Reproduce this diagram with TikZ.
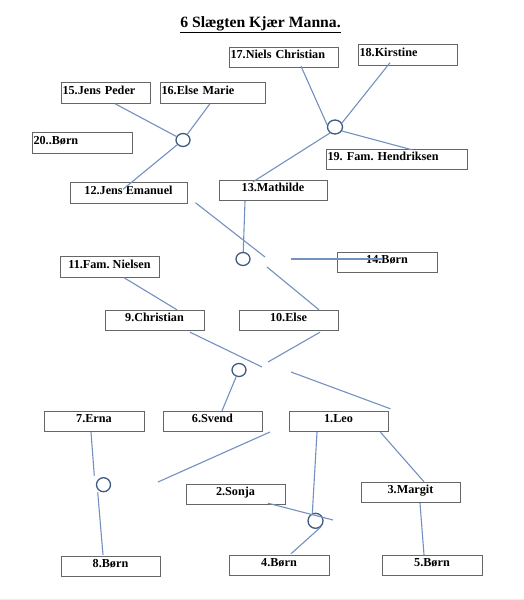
\documentclass[tikz,border=0pt]{standalone}
\usepackage{fontspec}
\setmainfont{Liberation Serif}
\usetikzlibrary{shapes.geometric}
\definecolor{linkc}{HTML}{7390C0}
\definecolor{ringc}{HTML}{3F5A82}
\definecolor{boxc}{HTML}{666666}
\frenchspacing
\begin{document}
\frenchspacing
\begin{tikzpicture}[x=1pt,y=-1pt,
  box/.style={draw=boxc,line width=0.9pt,rectangle,inner xsep=1.5pt,inner ysep=0pt,
    minimum height=20.5pt,text height=9pt,text depth=6.5pt,
    font=\fontsize{12.2}{14}\selectfont\bfseries\frenchspacing},
  lbox/.style={box,align=left},
  ring/.style={draw=ringc,line width=1.3pt,ellipse,inner sep=0pt,minimum width=14pt,minimum height=13pt},
  link/.style={draw=linkc,line width=1.1pt}]
\useasboundingbox (0,0) rectangle (524,600);
\fill[black!7] (0,598.5) rectangle (524,600);
% title
\node[anchor=base,font=\fontsize{15.7}{18}\selectfont\bfseries] (title) at (260.5,27.5) {\underline{6 Slægten Kjær Manna.}};
% boxes
\node[lbox,minimum width=109pt,text width=106pt] (n17) at (283.5,57.5) {17.Niels Christian};
\node[lbox,minimum width=99pt,text width=96pt] (n18) at (407.5,55) {18.Kirstine};
\node[lbox,minimum width=89pt,text width=86pt] (n15) at (105.5,93) {15.Jens Peder};
\node[lbox,minimum width=105pt,text width=102pt] (n16) at (212.5,93) {16.Else Marie};
\node[lbox,minimum width=100pt,text width=97pt] (n20) at (82,143) {20..Børn};
\node[lbox,minimum width=141pt,text width=138pt] (n19) at (396.5,159.5) {19. Fam. Hendriksen};
\node[box,minimum width=117pt] (n12) at (128.5,193) {12.Jens Emanuel};
\node[box,minimum width=108pt] (n13) at (273,190.5) {13.Mathilde};
\node[box,minimum width=100pt] (n14) at (387,262.5) {14.Børn};
\node[box,minimum width=99pt] (n11) at (109.5,267) {11.Fam. Nielsen};
\node[box,minimum width=99pt] (n9) at (154.5,320.5) {9.Christian};
\node[box,minimum width=99pt] (n10) at (288.5,320.5) {10.Else};
\node[box,minimum width=100pt] (n7) at (94,421.5) {7.Erna};
\node[box,minimum width=99pt] (n6) at (212.5,421.5) {6.Svend};
\node[box,minimum width=99pt] (n1) at (338.5,421.5) {1.Leo};
\node[box,minimum width=99pt] (n3) at (410.5,492.5) {3.Margit};
\node[box,minimum width=99pt] (n2) at (235.5,494.5) {2.Sonja};
\node[box,minimum width=99pt] (n8) at (110.5,566.5) {8.Børn};
\node[box,minimum width=100pt] (n4) at (279,565.5) {4.Børn};
\node[box,minimum width=100pt] (n5) at (432,565.5) {5.Børn};
% rings
\node[ring] (c1) at (183,140) {};
\node[ring,minimum width=15pt,minimum height=14pt] (c2) at (335,127) {};
\node[ring] (c3) at (243,259) {};
\node[ring] (c4) at (239,370) {};
\node[ring,minimum height=14pt] (c5) at (103.5,484.7) {};
\node[ring,minimum width=15pt,minimum height=15pt] (c6) at (315.5,520.8) {};
% free ends
\coordinate (g1a) at (265,257);
\coordinate (g1b) at (267,267);
\coordinate (h1) at (291,259);
\coordinate (m9) at (262,367);
\coordinate (m10) at (268,362);
\coordinate (m1) at (291,372);
\coordinate (f1) at (270,432);
\coordinate (f2) at (158,482);
\coordinate (s2) at (333,520);
% links
\draw[link] ([xshift=9.5pt]n15.south) -- (c1);
\draw[link] ([xshift=-2.5pt]n16.south) -- (c1);
\draw[link] (c1) -- ([xshift=-5.5pt,yshift=-7pt]n12.north);
\draw[link] ([xshift=17.5pt,yshift=2pt]n17.south) -- (c2.165);
\draw[link] ([xshift=-17.5pt,yshift=3pt]n18.south) -- (c2.30);
\draw[link] (c2.-30) -- ([xshift=15.5pt,yshift=-1pt]n19.north);
\draw[link] (c2.230) -- ([xshift=-20pt,yshift=-2pt]n13.north);
\draw[link] ([xshift=8pt,yshift=1pt]n12.south east) -- (g1a);
\draw[link] (g1b) -- ([xshift=30.5pt]n10.north);
\draw[link] ([xshift=-28pt]n13.south) -- (c3);
\draw[link] (h1) -- ([xshift=-4pt,yshift=3.5pt]n14.center);
\draw[link] ([xshift=14.5pt]n11.south) -- ([xshift=22.5pt]n9.north);
\draw[link] ([xshift=35.5pt,yshift=-1pt]n9.south) -- (m9);
\draw[link] ([xshift=31.5pt,yshift=-1pt]n10.south) -- (m10);
\draw[link] (c4) -- ([xshift=9.5pt]n6.north);
\draw[link] (m1) -- ([xshift=2pt,yshift=2pt]n1.north east);
\draw[link] ([xshift=-3pt]n7.south) -- ([xshift=-9.2pt,yshift=9pt]c5.center);
\draw[link] ([xshift=-5.8pt,yshift=-7.6pt]c5.center) -- ([xshift=-7.5pt,yshift=1pt]n8.north);
\draw[link] (f1) -- (f2);
\draw[link] ([xshift=-21.5pt]n1.south) -- (c6.113);
\draw[link] ([xshift=32.5pt,yshift=2pt]n2.south) -- (s2);
\draw[link] (c6.-48) -- ([xshift=12pt,yshift=1pt]n4.north);
\draw[link] ([xshift=-8pt]n1.south east) -- ([xshift=13.5pt]n3.north);
\draw[link] ([xshift=9.5pt]n3.south) -- ([xshift=-8pt]n5.north);
\end{tikzpicture}
\end{document}
